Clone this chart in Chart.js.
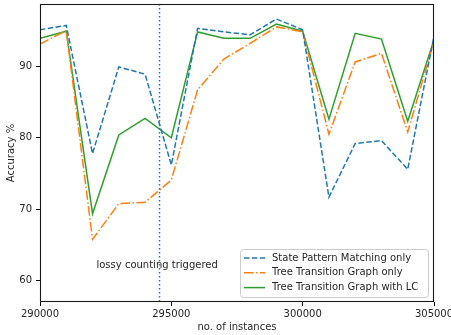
<!DOCTYPE html>
<html>
<head>
<meta charset="utf-8">
<script src="https://cdn.jsdelivr.net/npm/chart.js@4.4.0/dist/chart.umd.min.js"></script>
<style>
  body { margin: 0; background: #fff; }
  canvas { display: block; }
</style>
</head>
<body>
<canvas id="chartCanvas" width="451" height="335"></canvas>
<script>
// data
const instances = [290000, 291000, 292000, 293000, 294000, 295000, 296000, 297000,
                   298000, 299000, 300000, 301000, 302000, 303000, 304000, 305000];
const statePattern = [95.1, 95.7, 77.8, 89.9, 88.9, 76.2, 95.3, 94.8,
                      94.4, 96.6, 95.1, 71.7, 79.2, 79.6, 75.6, 94.2];
const treeOnly = [93.1, 95.0, 65.8, 70.8, 71.0, 74.1, 86.7, 91.0,
                  93.2, 95.5, 94.8, 80.5, 90.6, 91.8, 80.8, 93.5];
const treeLC = [93.9, 94.9, 69.4, 80.4, 82.7, 80.0, 94.8, 93.9,
                93.9, 95.9, 94.9, 82.6, 94.6, 93.8, 82.3, 93.7];
const yTicks = [60, 70, 80, 90];
const xTicks = [290000, 295000, 300000, 305000];
const lcTrigger = 294550;
const noteText = 'lossy counting triggered';
const notePos = [292150, 62.1];

const font = { family: 'DejaVu Sans', size: 10 };
const ink = '#262626';

const extras = {
    id: 'extras',
    afterDatasetsDraw(chart) {
        const c = chart.ctx;
        const a = chart.chartArea;
        const x = chart.scales.x, y = chart.scales.y;

        // trigger line
        c.save();
        c.beginPath();
        c.rect(a.left, a.top, a.right - a.left, a.bottom - a.top);
        c.clip();
        c.strokeStyle = '#1f77b4';
        c.lineWidth = 1.5;
        c.setLineDash([1.5, 2.5]);
        let px = x.getPixelForValue(lcTrigger);
        c.beginPath();
        c.moveTo(px, a.top);
        c.lineTo(px, a.bottom);
        c.stroke();
        c.restore();

        // note
        c.save();
        c.fillStyle = ink;
        c.font = '10px "DejaVu Sans"';
        c.textBaseline = 'middle';
        c.textAlign = 'left';
        c.fillText(noteText, x.getPixelForValue(notePos[0]), y.getPixelForValue(notePos[1]));
        c.restore();

        // frame
        c.save();
        c.strokeStyle = '#1a1a1a';
        c.lineWidth = 1.1;
        c.strokeRect(Math.round(a.left) + 0.5, Math.round(a.top) + 0.5,
                     Math.round(a.right - a.left) - 1, Math.round(a.bottom - a.top) - 1);
        c.restore();

        // legend inside bottom right
        c.save();
        const bx = a.right - 194, by = a.bottom - 53, bw = 188, bh = 48;
        c.fillStyle = 'rgba(255,255,255,0.8)';
        c.strokeStyle = '#cccccc';
        c.lineWidth = 1;
        c.beginPath();
        c.roundRect(bx + 0.5, by + 0.5, bw, bh, 3);
        c.fill();
        c.stroke();
        c.font = '10px "DejaVu Sans"';
        c.textBaseline = 'middle';
        chart.data.datasets.forEach((ds, i) => {
            const ly = by + 9 + i * 14.8;
            c.strokeStyle = ds.borderColor;
            c.lineWidth = ds.borderWidth;
            c.setLineDash(ds.borderDash || []);
            c.beginPath();
            c.moveTo(bx + 4, ly);
            c.lineTo(bx + 25, ly);
            c.stroke();
            c.setLineDash([]);
            c.fillStyle = ink;
            c.fillText(ds.label, bx + 32, ly);
        });
        c.restore();
    }
};

let ctx = document.getElementById('chartCanvas').getContext('2d');
let chart = new Chart(ctx, {
    type: 'line',
    data: {
        datasets: [{
            label: 'State Pattern Matching only',
            data: instances.map((v, i) => ({ x: v, y: statePattern[i] })),
            borderColor: '#1f77b4',
            borderDash: [5.5, 2.4],
            borderWidth: 1.5,
            pointRadius: 0,
            fill: false,
            tension: 0
        }, {
            label: 'Tree Transition Graph only',
            data: instances.map((v, i) => ({ x: v, y: treeOnly[i] })),
            borderColor: '#ff7f0e',
            borderDash: [9.6, 2.4, 1.5, 2.4],
            borderWidth: 1.5,
            pointRadius: 0,
            fill: false,
            tension: 0
        }, {
            label: 'Tree Transition Graph with LC',
            data: instances.map((v, i) => ({ x: v, y: treeLC[i] })),
            borderColor: '#2ca02c',
            borderWidth: 1.5,
            pointRadius: 0,
            fill: false,
            tension: 0
        }]
    },
    options: {
        responsive: false,
        animation: false,
        layout: { padding: { top: 4, right: 17, left: 0, bottom: 0 } },
        plugins: { legend: { display: false }, tooltip: { enabled: false } },
        scales: {
            x: {
                type: 'linear',
                min: 290000,
                max: 305000,
                afterBuildTicks: s => { s.ticks = xTicks.map(v => ({ value: v })); },
                afterFit: s => { s.height = 33; s.paddingLeft = 0; s.paddingRight = 0; },
                ticks: { font: font, color: ink, padding: 2, maxRotation: 0, callback: v => String(v) },
                grid: { drawOnChartArea: false, drawTicks: true, tickLength: 4, color: '#000' },
                border: { display: false },
                title: { display: true, text: 'no. of instances', font: font, color: ink, padding: { bottom: 2, top: 0 } }
            },
            y: {
                min: 57.05,
                max: 98.7,
                afterBuildTicks: s => { s.ticks = yTicks.map(v => ({ value: v })); },
                afterFit: s => { s.width = 40; s.paddingTop = 0; s.paddingBottom = 0; },
                ticks: { font: font, color: ink, padding: 4 },
                grid: { drawOnChartArea: false, drawTicks: true, tickLength: 4, color: '#000' },
                border: { display: false },
                title: { display: true, text: 'Accuracy %', font: font, color: ink, padding: { top: 5, bottom: 0 } }
            }
        }
    },
    plugins: [extras]
});
</script>
</body>
</html>
